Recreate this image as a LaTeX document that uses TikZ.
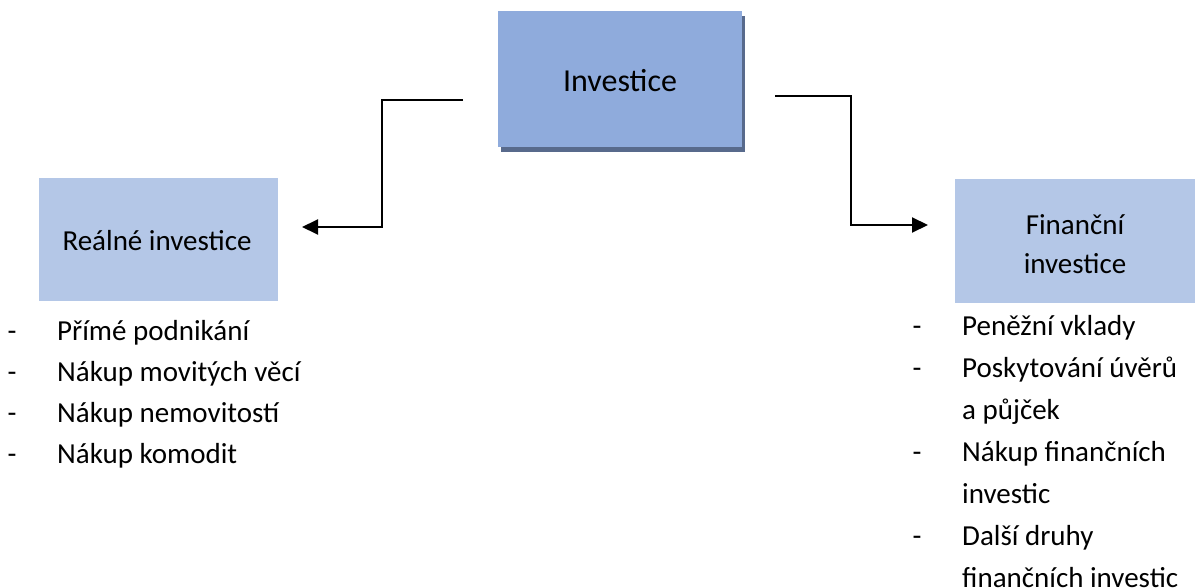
\documentclass[tikz,border=0pt]{standalone}
\usepackage{fontspec}
\setmainfont{Carlito}
\usetikzlibrary{arrows.meta,shadows}
\definecolor{invfill}{HTML}{8FABDC}
\definecolor{invshadow}{HTML}{586A8C}
\definecolor{boxfill}{HTML}{B4C7E7}
\begin{document}
\begin{tikzpicture}[x=1pt,y=-1pt,
  txt/.style={font=\fontsize{29}{41}\selectfont, inner sep=0pt, anchor=base west},
  bullet/.style={font=\fontsize{29}{41}\selectfont, inner sep=0pt, anchor=base},
  lightbox/.style={fill=boxfill, draw=none, inner sep=0pt},
  conn/.style={line width=2pt, -{Triangle[length=16pt,width=15pt]}}]
\useasboundingbox (0,0) rectangle (1204,588);
\clip (0,0) rectangle (1204,588);
% main box
\node[fill=invfill, draw=none, minimum width=244pt, minimum height=136pt, inner sep=0pt,
      drop shadow={shadow xshift=3pt, shadow yshift=-5pt, fill=invshadow, opacity=1}] (inv) at (620,79) {};
\node[txt, font=\fontsize{32}{38}\selectfont, anchor=base] (invt) at (620,92) {Investice};
% real box
\node[lightbox, minimum width=239pt, minimum height=123pt] (real) at (158.5,239.5) {};
\node[txt, anchor=base] (realt) at (157,250) {Reálné investice};
% financial box
\node[lightbox, minimum width=240pt, minimum height=124pt] (fin) at (1075,241) {};
\node[txt, anchor=base] (fint1) at (1075,234) {Finanční};
\node[txt, anchor=base] (fint2) at (1075,273) {investice};
% left list
\node[bullet] (ld1) at (12,340) {-};
\node[bullet] (ld2) at (12,381) {-};
\node[bullet] (ld3) at (12,422) {-};
\node[bullet] (ld4) at (12,463) {-};
\node[txt] (l1) at (57,340) {Přímé podnikání};
\node[txt] (l2) at (57,381) {Nákup movitých věcí};
\node[txt] (l3) at (57,422) {Nákup nemovitostí};
\node[txt] (l4) at (57,463) {Nákup komodit};
% right list
\node[bullet] (rd1) at (917,335) {-};
\node[bullet] (rd2) at (917,377) {-};
\node[bullet] (rd3) at (917,461) {-};
\node[bullet] (rd4) at (917,545) {-};
\node[txt] (r1) at (962,335) {Peněžní vklady};
\node[txt] (r2) at (962,377) {Poskytování úvěrů};
\node[txt] (r3) at (962,419) {a půjček};
\node[txt] (r4) at (962,461) {Nákup finančních};
\node[txt] (r5) at (962,503) {investic};
\node[txt] (r6) at (962,545) {Další druhy};
\node[txt] (r7) at (962,587) {finančních investic};
% connectors
\coordinate (lstart) at (463,100);
\coordinate (ltip) at (302,227);
\coordinate (rstart) at (775,96);
\coordinate (rtip) at (928,225);
\draw[conn] (lstart) -- ++(-81,0) |- (ltip);
\draw[conn] (rstart) -- ++(76,0) |- (rtip);
\end{tikzpicture}
\end{document}
